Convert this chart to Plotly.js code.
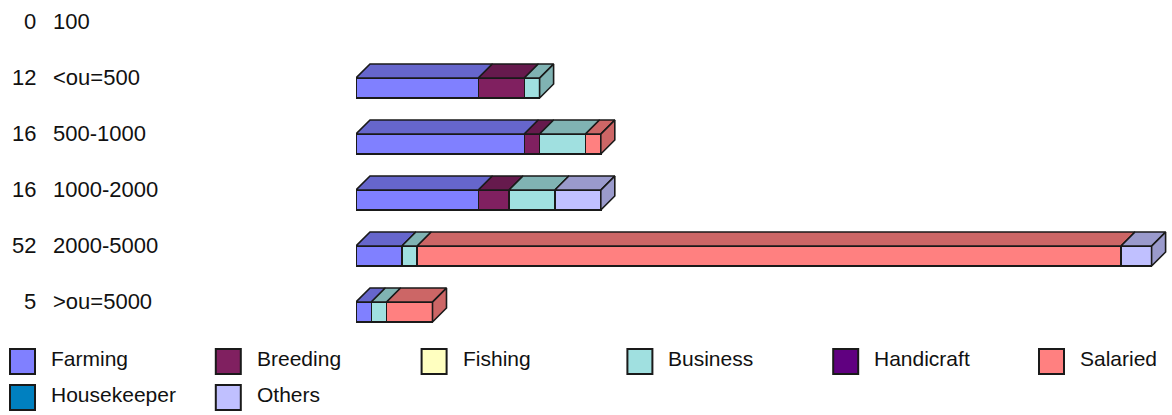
<!DOCTYPE html>
<html>
<head>
<meta charset="utf-8">
<script src="https://cdn.plot.ly/plotly-3.0.1.min.js"></script>
<style>
  html, body { margin: 0; padding: 0; background: #ffffff; }
  #chart { width: 1172px; height: 415px; }
</style>
</head>
<body>
<div id="chart"></div>
<script>
// ---------- DATA ----------
const categories = ["100", "<ou=500", "500-1000", "1000-2000", "2000-5000", ">ou=5000"];
const seriesNames = ["Farming", "Breeding", "Fishing", "Business", "Handicraft", "Salaried", "Housekeeper", "Others"];
const farming     = [0, 8, 11, 8, 3, 1];
const breeding    = [0, 3, 1, 2, 0, 0];
const fishing     = [0, 0, 0, 0, 0, 0];
const business    = [0, 1, 3, 3, 1, 1];
const handicraft  = [0, 0, 0, 0, 0, 0];
const salaried    = [0, 0, 1, 0, 46, 3];
const housekeeper = [0, 0, 0, 0, 0, 0];
const others      = [0, 0, 0, 3, 2, 0];
const seriesValues = [farming, breeding, fishing, business, handicraft, salaried, housekeeper, others];

// ---------- STYLE ----------
const colors = ["#8080FF", "#802060", "#FFFFC0", "#A0E0E0", "#600080", "#FF8080", "#0080C0", "#C0C0FF"];
const edge = "#1a1a1a";
const FONT = "Liberation Sans, Arial, sans-serif";
const textColor = "#111111";

const L = 356, R = 3, T = 0, B = 79;
const FIG_W = 1172, FIG_H = 415;
const W = FIG_W - L - R, H = FIG_H - T - B;
const pxPerUnit = 15.3;
const xMax = W / pxPerUnit;
const rowPx = 56;
const yTop = -21 / rowPx;                 // row 0 centre at 21px
const yRange = [yTop + H / rowPx, yTop];  // reversed
const barW = 20 / rowPx, barOff = 1 / rowPx;
const dxU = 14 / pxPerUnit, dyU = 14 / rowPx;

function darker(hex, f) {
  const n = parseInt(hex.slice(1), 16);
  const r = Math.round(((n >> 16) & 255) * f), g = Math.round(((n >> 8) & 255) * f), b = Math.round((n & 255) * f);
  return "rgb(" + r + "," + g + "," + b + ")";
}
const px2paperX = px => (px - L) / W;
const px2paperY = py => (T + H - py) / H;

const rows = categories.map((c, i) => i);
const totals = rows.map(i => seriesValues.reduce((s, v) => s + v[i], 0));

const traces = [];
// front faces
seriesValues.forEach((vals, k) => {
  traces.push({
    type: "bar", orientation: "h",
    y: rows, x: vals.map(v => v === 0 ? null : v),
    width: barW, offset: barOff,
    marker: { color: colors[k], line: { color: edge, width: 1.6 } },
    showlegend: false, hoverinfo: "skip", name: seriesNames[k]
  });
});
// top & side faces
const cum = rows.map(() => 0);
const lastK = rows.map(i => { let l = -1; seriesValues.forEach((v, k) => { if (v[i] > 0) l = k; }); return l; });
seriesValues.forEach((vals, k) => {
  const xs = [], ys = [];
  rows.forEach(i => {
    const v = vals[i];
    if (!v) return;
    const a = cum[i], b = a + v;
    cum[i] = b;
    const yt = i + barOff, yb = i + barOff + barW;
    xs.push(a, a + dxU, b + dxU, b, a, null);
    ys.push(yt, yt - dyU, yt - dyU, yt, yt, null);
    if (lastK[i] === k) {
      xs.push(b, b + dxU, b + dxU, b, b, null);
      ys.push(yt, yt - dyU, yb - dyU, yb, yt, null);
    }
  });
  if (xs.length) {
    traces.push({
      type: "scatter", mode: "lines", x: xs, y: ys,
      fill: "toself", fillcolor: darker(colors[k], 0.8),
      line: { color: edge, width: 1.6 },
      showlegend: false, hoverinfo: "skip"
    });
  }
});

const annotations = [];
rows.forEach(i => {
  annotations.push({
    xref: "paper", yref: "y", x: px2paperX(38), y: i, xanchor: "right", yanchor: "middle",
    text: String(totals[i]), showarrow: false, font: { family: FONT, size: 22, color: textColor }
  });
  annotations.push({
    xref: "paper", yref: "y", x: px2paperX(51), y: i, xanchor: "left", yanchor: "middle",
    text: categories[i].replace(/</g, "&lt;").replace(/>/g, "&gt;"), showarrow: false,
    font: { family: FONT, size: 22, color: textColor }
  });
});

const shapes = [];
seriesNames.forEach((name, k) => {
  const col = k % 6, row = Math.floor(k / 6);
  const sx = 10 + 205.8 * col, sy = 349 + 36 * row;
  shapes.push({
    type: "rect", xref: "paper", yref: "paper",
    x0: px2paperX(sx), x1: px2paperX(sx + 25), y0: px2paperY(sy + 25), y1: px2paperY(sy),
    fillcolor: colors[k], line: { color: edge, width: 2 }
  });
  annotations.push({
    xref: "paper", yref: "paper", x: px2paperX(sx + 39), y: px2paperY(sy + 9),
    xanchor: "left", yanchor: "middle", text: name, showarrow: false,
    font: { family: FONT, size: 21, color: textColor }
  });
});

const layout = {
  width: FIG_W, height: FIG_H,
  margin: { l: L, r: R, t: T, b: B, pad: 0 },
  paper_bgcolor: "#ffffff", plot_bgcolor: "#ffffff",
  barmode: "stack",
  xaxis: { range: [0, xMax], visible: false, showgrid: false, zeroline: false, fixedrange: true },
  yaxis: { range: yRange, visible: false, showgrid: false, zeroline: false, fixedrange: true },
  annotations: annotations, shapes: shapes,
  showlegend: false
};

Plotly.newPlot("chart", traces, layout, { displayModeBar: false, staticPlot: true });
</script>
</body>
</html>
